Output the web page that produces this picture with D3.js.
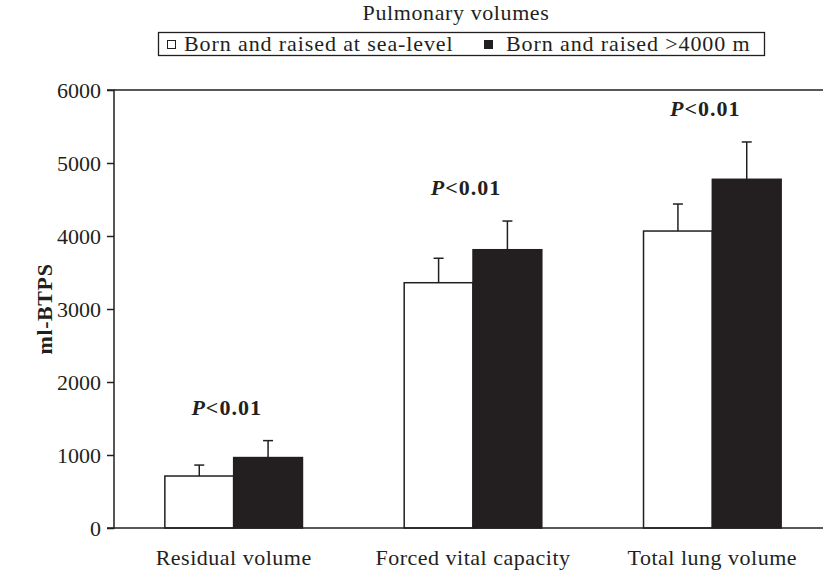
<!DOCTYPE html>
<html>
<head>
<meta charset="utf-8">
<script src="https://cdn.jsdelivr.net/npm/d3@7"></script>
<style>
  body { margin: 0; background: #fff; }
  svg { display: block; }
  text { font-family: "Liberation Serif", "DejaVu Serif", serif; fill: #231f20; }
</style>
</head>
<body>
<svg id="chart" width="823" height="572"></svg>
<script>
// Pulmonary volumes (ml-BTPS), mean and SD per group
const categories = ["Residual volume", "Forced vital capacity", "Total lung volume"];
const seriesNames = ["Born and raised at sea-level", "Born and raised >4000 m"];
const seaLevelMean = [712, 3360, 4068];
const seaLevelSD = [150, 335, 370];
const highAltMean = [965, 3812, 4777];
const highAltSD = [232, 393, 511];
const pLabels = ["P<0.01", "P<0.01", "P<0.01"];
const yTicks = [0, 1000, 2000, 3000, 4000, 5000, 6000];

const ink = "#231f20";
const svg = d3.select("#chart");
const margin = { left: 114, top: 90, bottom: 44 };
const W = 823, H = 572;

const x = d3.scaleBand().domain(categories).range([margin.left, 832]).paddingInner(0.425).paddingOuter(0.2125);
const xs = d3.scaleBand().domain([0, 1]).range([0, x.bandwidth()]);
const y = d3.scaleLinear().domain([0, 6000]).range([H - margin.bottom, margin.top]);

const series = [
  { name: seriesNames[0], mean: seaLevelMean, sd: seaLevelSD, fill: "#fff" },
  { name: seriesNames[1], mean: highAltMean, sd: highAltSD, fill: ink }
];

// Title
svg.append("text").attr("x", 456).attr("y", 20).attr("text-anchor", "middle")
  .style("font-size", "22px").style("letter-spacing", "0.6px").text("Pulmonary volumes");

// Legend
const lg = svg.append("g");
lg.append("rect").attr("x", 158.5).attr("y", 32.5).attr("width", 606).attr("height", 23)
  .attr("fill", "none").attr("stroke", ink).attr("stroke-width", 1.3);
const legendItems = [
  { s: series[0], x: 167, tx: 184 },
  { s: series[1], x: 484, tx: 506 }
];
legendItems.forEach(d => {
  lg.append("rect").attr("x", d.x + 0.5).attr("y", 40.5).attr("width", 8).attr("height", 8)
    .attr("fill", d.s.fill).attr("stroke", ink).attr("stroke-width", 1);
  lg.append("text").attr("x", d.tx).attr("y", 51).style("font-size", "22px")
    .style("letter-spacing", "0.9px").text(d.s.name);
});

// Bars
const groups = svg.append("g").selectAll("g").data(categories).join("g")
  .attr("transform", c => `translate(${x(c)},0)`);

series.forEach((s, si) => {
  groups.append("rect")
    .attr("x", xs(si)).attr("width", xs.bandwidth())
    .attr("y", (c, i) => y(s.mean[i]))
    .attr("height", (c, i) => y(0) - y(s.mean[i]))
    .attr("fill", s.fill).attr("stroke", ink).attr("stroke-width", 1.5);
  // Error bars (upper only)
  groups.append("line")
    .attr("x1", xs(si) + xs.bandwidth() / 2).attr("x2", xs(si) + xs.bandwidth() / 2)
    .attr("y1", (c, i) => y(s.mean[i])).attr("y2", (c, i) => y(s.mean[i] + s.sd[i]))
    .attr("stroke", ink).attr("stroke-width", 1.5);
  groups.append("line")
    .attr("x1", xs(si) + xs.bandwidth() / 2 - 5).attr("x2", xs(si) + xs.bandwidth() / 2 + 5)
    .attr("y1", (c, i) => y(s.mean[i] + s.sd[i])).attr("y2", (c, i) => y(s.mean[i] + s.sd[i]))
    .attr("stroke", ink).attr("stroke-width", 1.5);
});

// Significance labels
groups.append("text")
  .attr("x", x.bandwidth() / 2 - 7)
  .attr("y", (c, i) => y(Math.max(seaLevelMean[i] + seaLevelSD[i], highAltMean[i] + highAltSD[i])) - 26)
  .attr("text-anchor", "middle")
  .style("font-size", "22px").style("font-weight", "bold").style("letter-spacing", "1px")
  .each(function (c, i) {
    const t = d3.select(this);
    const lbl = pLabels[i];
    t.append("tspan").style("font-style", "italic").text(lbl[0]);
    t.append("tspan").text(lbl.slice(1));
  });

// Axes
const yAxis = d3.axisLeft(y).tickValues(yTicks).tickSize(7).tickPadding(6).tickFormat(d3.format("d"));
const gy = svg.append("g").attr("transform", `translate(${margin.left},0)`).call(yAxis);
gy.select(".domain").attr("stroke", ink).attr("stroke-width", 1.5).attr("d", `M-7,${y(6000)}H0V${y(0)}H-7`);
gy.selectAll(".tick line").attr("stroke", ink).attr("stroke-width", 1.5);
gy.selectAll(".tick text").style("font-size", "22px").attr("fill", ink).attr("dy", "0.34em");

// Horizontal baseline and top line across the plot
svg.append("line").attr("x1", margin.left).attr("x2", W).attr("y1", y(0)).attr("y2", y(0))
  .attr("stroke", ink).attr("stroke-width", 1.5);
svg.append("line").attr("x1", margin.left).attr("x2", W).attr("y1", y(6000)).attr("y2", y(6000))
  .attr("stroke", ink).attr("stroke-width", 1.5);

const xAxis = d3.axisBottom(x).tickSize(0).tickPadding(21);
const gx = svg.append("g").attr("transform", `translate(0,${y(0)})`).call(xAxis);
gx.select(".domain").remove();
gx.selectAll(".tick text").style("font-size", "22px").style("letter-spacing", "0.5px").attr("fill", ink);

// Y label
svg.append("text").attr("transform", `translate(52,${(y(0) + y(6000)) / 2}) rotate(-90)`)
  .attr("text-anchor", "middle").style("font-size", "22px").style("font-weight", "bold")
  .style("letter-spacing", "0.6px").text("ml-BTPS");
</script>
</body>
</html>
